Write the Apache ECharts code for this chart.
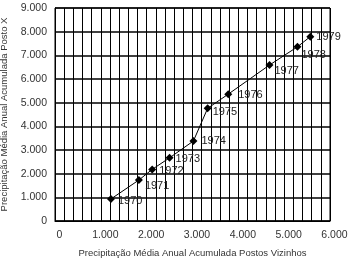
<!DOCTYPE html>
<html><head><meta charset="utf-8">
<script src="https://cdn.jsdelivr.net/npm/echarts@6/dist/echarts.min.js"></script>
<style>html,body{margin:0;padding:0;background:#fff}#c{width:348px;height:265px}</style>
</head><body><div id="c"></div>
<script>
var years = ['1970','1971','1972','1973','1974','1975','1976','1977','1978','1979'];
var vizinhos = [1220, 1830, 2120, 2500, 3020, 3330, 3780, 4680, 5290, 5570];
var postoX = [930, 1730, 2180, 2670, 3380, 4760, 5360, 6590, 7360, 7790];
var xTickStep = 1000;
var yTickStep = 1000;
var xTitle = 'Precipitação Média Anual Acumulada Postos Vizinhos';
var yTitle = 'Precipitação Média Anual Acumulada Posto X';

// label offsets (style only)
var labelOffsets = [[1,2],[0,6],[1,2],[0,1],[2,0],[-1,4],[4,1],[-1,6],[-2,8],[0,0]];

var FONT = '"Liberation Sans",Arial,sans-serif';
function fmt(v){
  if (v % xTickStep !== 0) return '';
  if (v === 0) return '0';
  return (v/1000) + '.000';
}
var data = vizinhos.map(function(x,i){
  return {value:[x, postoX[i]], name: years[i],
    label:{offset: labelOffsets[i]}};
});
var chart = echarts.init(document.getElementById('c'), null, {renderer:'canvas'});
chart.setOption({
  animation:false,
  backgroundColor:'#fff',
  grid:{left:55, right:18, top:8, bottom:44, show:true, borderColor:'#000', borderWidth:1,
    containLabel:false, outerBoundsMode:'none'},
  xAxis:{type:'value', min:0, max:6000, interval:200,
    name:xTitle, nameLocation:'middle', nameGap:27,
    nameTextStyle:{color:'#333', fontSize:9.5, fontFamily:FONT},
    axisLine:{show:true, lineStyle:{color:'#000'}},
    axisTick:{show:false},
    axisLabel:{color:'#333', fontSize:10.5, fontFamily:FONT, formatter:fmt, margin:9, showMaxLabel:true,
      padding:[0,0,0,9]},
    splitLine:{show:true, lineStyle:{color:'#000', width:1}}
  },
  yAxis:{type:'value', min:0, max:9000, interval:yTickStep,
    name:yTitle, nameLocation:'middle', nameGap:46,
    nameTextStyle:{color:'#333', fontSize:9.5, fontFamily:FONT},
    axisLine:{show:true, lineStyle:{color:'#000'}},
    axisTick:{show:false},
    axisLabel:{color:'#333', fontSize:10.5, fontFamily:FONT, formatter:fmt, margin:8},
    splitLine:{show:true, lineStyle:{color:'#000', width:1.5}}
  },
  series:[{
    type:'line', data:data,
    symbol:'diamond', symbolSize:8,
    itemStyle:{color:'#000'},
    lineStyle:{color:'#000', width:1},
    label:{show:true, position:'right', distance:2, color:'#222', fontSize:11, fontFamily:FONT,
      formatter:function(p){return p.name;}}
  }]
});
</script></body></html>
